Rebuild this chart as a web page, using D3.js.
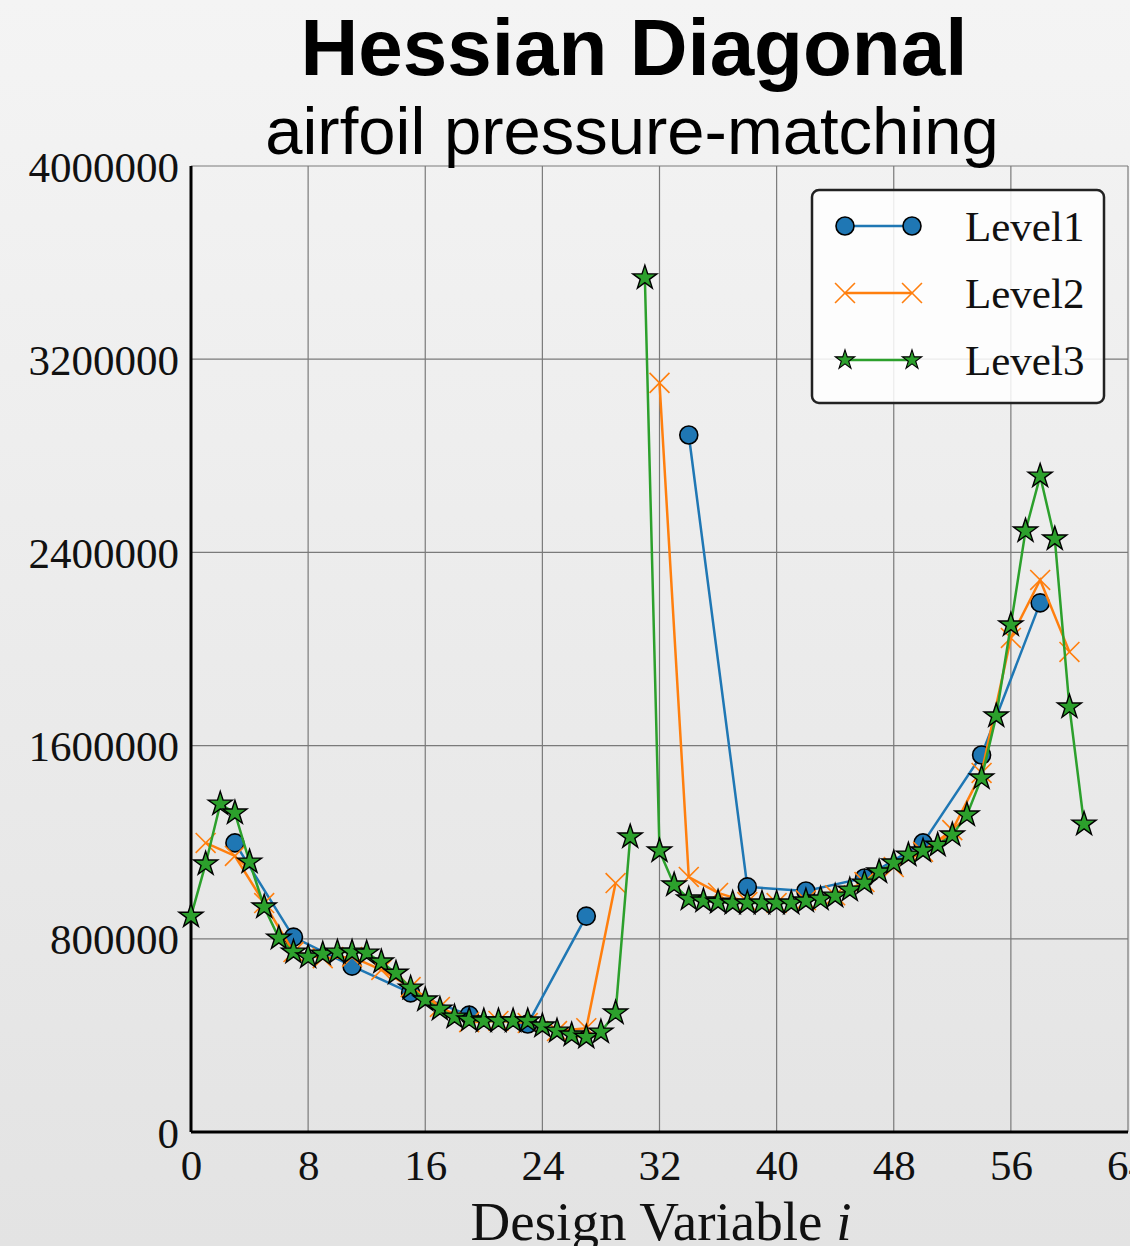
<!DOCTYPE html>
<html>
<head>
<meta charset="utf-8">
<script src="https://cdn.jsdelivr.net/npm/d3@7"></script>
<style>
  html, body { margin: 0; padding: 0; overflow: hidden; }
</style>
</head>
<body>
<svg></svg>
<script>
// data
const level1X = [3, 7, 11, 15, 19, 23, 27, 34, 38, 42, 46, 50, 54, 58];
const level1Y = [1197000, 807000, 687000, 576000, 484000, 447000, 894000,
  2886000, 1015000, 998000, 1052000, 1197000, 1561000, 2191000];

const level2X = [1, 3, 5, 7, 9, 11, 13, 15, 17, 19, 21, 23, 25, 27, 29,
  32, 34, 36, 38, 40, 42, 44, 46, 48, 50, 52, 54, 56, 58, 60];
const level2Y = [1197000, 1143000, 948000, 745000, 720000, 725000, 671000, 600000, 518000, 455000,
  460000, 451000, 418000, 430000, 1031000,
  3102000, 1056000, 990000, 952000, 948000, 960000, 980000, 1035000, 1097000, 1160000,
  1250000, 1487000, 2046000, 2286000, 1988000];

const level3X = d3.range(0, 62);
const level3Y = [894000, 1110000, 1358000, 1321000, 1118000, 932000, 803000, 745000, 725000, 737000,
  745000, 745000, 741000, 704000, 658000, 596000, 547000, 509000, 476000, 464000,
  460000, 460000, 460000, 460000, 439000, 418000, 402000, 393000, 414000, 493000,
  1222000, 3537000, 1164000, 1023000, 965000, 957000, 952000, 948000, 948000, 948000,
  948000, 948000, 957000, 965000, 977000, 1002000, 1031000, 1077000, 1114000, 1147000,
  1164000, 1188000, 1230000, 1313000, 1466000, 1723000, 2100000, 2489000, 2716000, 2456000,
  1760000, 1275000];

// each level is drawn as two pieces (the line breaks before these x values)
const splitAt = [34, 32, 31];

const seriesNames = ["Level1", "Level2", "Level3"];
const seriesColors = ["#1f77b4", "#ff7f0e", "#2ca02c"];
const xTicks = [0, 8, 16, 24, 32, 40, 48, 56, 64];
const yTicks = [0, 800000, 1600000, 2400000, 3200000, 4000000];

const width = 1130, height = 1246;
const margin = {top: 166, left: 191, right: 2, bottom: 114};

const svg = d3.select("svg").attr("width", width).attr("height", height);

// background gradient
const grad = svg.append("defs").append("linearGradient")
  .attr("id", "bg").attr("x1", 0).attr("y1", 0).attr("x2", 0).attr("y2", 1);
grad.append("stop").attr("offset", "0%").attr("stop-color", "#f4f4f4");
grad.append("stop").attr("offset", "100%").attr("stop-color", "#e3e3e3");
svg.append("rect").attr("width", width).attr("height", height).attr("fill", "url(#bg)");

const x = d3.scaleLinear().domain([0, 64]).range([margin.left, width - margin.right]);
const y = d3.scaleLinear().domain([0, 4000000]).range([height - margin.bottom, margin.top]);

// grid
svg.append("g").selectAll("line").data(xTicks).enter().append("line")
  .attr("x1", d => x(d)).attr("x2", d => x(d))
  .attr("y1", y(0)).attr("y2", y(4000000))
  .attr("stroke", "#7a7a7a").attr("stroke-width", 1.2);
svg.append("g").selectAll("line").data(yTicks).enter().append("line")
  .attr("x1", x(0)).attr("x2", x(64))
  .attr("y1", d => y(d)).attr("y2", d => y(d))
  .attr("stroke", "#7a7a7a").attr("stroke-width", 1.2);

// axes
const xAxis = svg.append("g")
  .attr("transform", `translate(0,${y(0)})`)
  .call(d3.axisBottom(x).tickValues(xTicks).tickSize(0).tickPadding(16).tickFormat(d3.format("d")));
const yAxis = svg.append("g")
  .attr("transform", `translate(${x(0)},0)`)
  .call(d3.axisLeft(y).tickValues(yTicks).tickSize(0).tickPadding(12).tickFormat(d3.format("d")));
[xAxis, yAxis].forEach(a => {
  a.select(".domain").remove();
  a.selectAll("text").attr("font-family", "'Liberation Serif', serif")
    .attr("font-size", 43).attr("fill", "#111");
});
xAxis.selectAll("text").attr("dy", "0.75em");
yAxis.selectAll("text").attr("dy", "0.35em");

svg.append("line").attr("x1", x(0)).attr("x2", x(64)).attr("y1", y(0)).attr("y2", y(0))
  .attr("stroke", "#000").attr("stroke-width", 3);
svg.append("line").attr("x1", x(0)).attr("x2", x(0)).attr("y1", y(0)).attr("y2", y(4000000))
  .attr("stroke", "#000").attr("stroke-width", 3);

// series
const series = [
  {xs: level1X, ys: level1Y},
  {xs: level2X, ys: level2Y},
  {xs: level3X, ys: level3Y}
];
const line = d3.line().x(d => x(d[0])).y(d => y(d[1]));
const star = d3.symbol().type(d3.symbolStar).size(180)();
const cross = d3.symbol().type(d3.symbolX).size(260)();

function drawMarker(g, i, cx, cy, scale) {
  scale = scale || 1;
  if (i === 0) {
    g.append("circle").attr("cx", cx).attr("cy", cy).attr("r", 9 * scale)
      .attr("fill", seriesColors[0]).attr("stroke", "#000").attr("stroke-width", 1.6);
  } else if (i === 1) {
    g.append("path").attr("d", cross)
      .attr("transform", `translate(${cx},${cy}) scale(${scale})`)
      .attr("fill", "none").attr("stroke", seriesColors[1]).attr("stroke-width", 1.6);
  } else {
    g.append("path").attr("d", star)
      .attr("transform", `translate(${cx},${cy}) scale(${scale})`)
      .attr("fill", seriesColors[2]).attr("stroke", "#000").attr("stroke-width", 1.4);
  }
}

series.forEach((s, i) => {
  const pts = s.xs.map((v, k) => [v, s.ys[k]]);
  const g = svg.append("g");
  const pieces = [pts.filter(p => p[0] < splitAt[i]), pts.filter(p => p[0] >= splitAt[i])];
  pieces.forEach(pc => {
    g.append("path").datum(pc).attr("d", line)
      .attr("fill", "none").attr("stroke", seriesColors[i]).attr("stroke-width", 2.5);
  });
  pts.forEach(p => drawMarker(g, i, x(p[0]), y(p[1])));
});

// legend
const leg = svg.append("g");
leg.append("rect").attr("x", 812).attr("y", 190).attr("width", 292).attr("height", 213)
  .attr("rx", 7).attr("fill", "#fff").attr("fill-opacity", 0.85)
  .attr("stroke", "#222").attr("stroke-width", 2.5);
seriesNames.forEach((name, i) => {
  const ly = 226 + i * 67;
  leg.append("line").attr("x1", 845).attr("x2", 912).attr("y1", ly).attr("y2", ly)
    .attr("stroke", seriesColors[i]).attr("stroke-width", 2.5);
  drawMarker(leg, i, 845, ly, i === 2 ? 0.8 : 1);
  drawMarker(leg, i, 912, ly, i === 2 ? 0.8 : 1);
  leg.append("text").attr("x", 965).attr("y", ly).attr("dy", "0.35em")
    .attr("font-family", "'Liberation Serif', serif").attr("font-size", 43)
    .attr("fill", "#111").text(name);
});

// titles
svg.append("text").attr("x", 634).attr("y", 75).attr("text-anchor", "middle")
  .attr("font-family", "'Liberation Sans', Arial, sans-serif").attr("font-weight", "bold")
  .attr("font-size", 80).attr("fill", "#000").text("Hessian Diagonal");
svg.append("text").attr("x", 632).attr("y", 154).attr("text-anchor", "middle")
  .attr("font-family", "'Liberation Sans', Arial, sans-serif")
  .attr("font-size", 67).attr("fill", "#000").text("airfoil pressure-matching");

const xl = svg.append("text").attr("x", 661).attr("y", 1240).attr("text-anchor", "middle")
  .attr("font-family", "'Liberation Serif', serif").attr("font-size", 55).attr("fill", "#111");
xl.append("tspan").text("Design Variable ");
xl.append("tspan").attr("font-style", "italic").text("i");
</script>
</body>
</html>
